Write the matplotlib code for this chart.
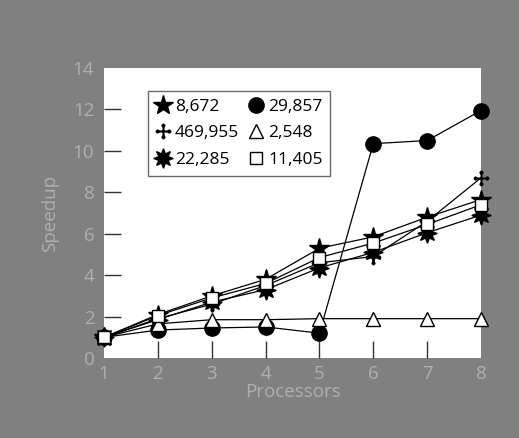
import numpy as np
import matplotlib
matplotlib.use("Agg")
import matplotlib.pyplot as plt
from matplotlib.path import Path

plt.rcParams['font.family'] = ['Open Sans', 'DejaVu Sans']

processors = [1, 2, 3, 4, 5, 6, 7, 8]

# speedup per problem size
s_8672 = [1.0, 2.1, 3.0, 3.8, 5.3, 5.85, 6.8, 7.65]
s_469955 = [1.0, 1.9, 2.6, 3.5, 4.6, 4.9, 6.6, 8.7]
s_22285 = [1.0, 1.85, 2.7, 3.3, 4.35, 5.1, 6.05, 6.9]
s_29857 = [1.0, 1.35, 1.45, 1.5, 1.2, 10.35, 10.5, 11.95]
s_2548 = [1.0, 1.65, 1.85, 1.85, 1.9, 1.9, 1.9, 1.9]
s_11405 = [1.0, 2.05, 2.9, 3.6, 4.85, 5.55, 6.45, 7.4]

labels = ["8,672", "469,955", "22,285", "29,857", "2,548", "11,405"]
yticks = [0, 2, 4, 6, 8, 10, 12, 14]

# plus sign with dots on the ends
w = 0.12
bar_h = Path([(-1, -w), (1, -w), (1, w), (-1, w), (-1, -w)], closed=True)
bar_v = Path([(-w, -1), (w, -1), (w, 1), (-w, 1), (-w, -1)], closed=True)
dots = []
for cx, cy in [(1, 0), (-1, 0), (0, 1), (0, -1)]:
    c = Path.circle((cx, cy), 0.3)
    dots.append(c)
dotcross = Path.make_compound_path(bar_h, bar_v, *dots)

bg = "#808080"
fig = plt.figure(figsize=(5.19, 4.38), dpi=100, facecolor=bg)
ax = fig.add_axes([0.2004, 0.1826, 0.7264, 0.662])
ax.set_facecolor("white")

kw = dict(color="black", lw=0.9, clip_on=False)
ax.plot(processors, s_8672, marker="*", ms=15, mfc="black", mec="black", label=labels[0], **kw)
ax.plot(processors, s_469955, marker=dotcross, ms=11, mfc="black", mec="black", mew=0.3, label=labels[1], **kw)
ax.plot(processors, s_22285, marker=(8, 1, 0), ms=14, mfc="black", mec="black", label=labels[2], **kw)
ax.plot(processors, s_29857, marker="o", ms=11, mfc="black", mec="black", label=labels[3], **kw)
ax.plot(processors, s_2548, marker="^", ms=10, mfc="white", mec="black", mew=1, label=labels[4], **kw)
ax.plot(processors, s_11405, marker="s", ms=8, mfc="white", mec="black", mew=1, label=labels[5], **kw)

ax.set_xlim(1, 8)
ax.set_ylim(0, 14)
ax.set_xticks(processors)
ax.set_yticks(yticks)
ax.tick_params(direction="in", length=12, width=1, color="#333333",
               labelcolor="#b0b0b0", labelsize=13.5)
ax.tick_params(axis="x", pad=5)
ax.tick_params(axis="y", pad=7)
# end ticks sit on the frame edge and do not show in the original
for tl in (ax.xaxis.get_major_ticks()[0], ax.xaxis.get_major_ticks()[-1],
           ax.yaxis.get_major_ticks()[0], ax.yaxis.get_major_ticks()[-1]):
    tl.tick1line.set_visible(False)
for s in ax.spines.values():
    s.set_visible(False)

ax.set_ylabel("Speedup", color="#b0b0b0", fontsize=13.5, labelpad=10)
ax.set_xlabel("Processors", color="#b0b0b0", fontsize=13.5, labelpad=0)

leg = ax.legend(ncol=2, loc="upper left", bbox_to_anchor=(0.117, 0.922),
                fontsize=12.5, frameon=True, fancybox=False, edgecolor="#444444",
                handlelength=0.8, handletextpad=0.3, columnspacing=0.55,
                labelspacing=0.6, borderpad=0.45, borderaxespad=0)
leg.get_frame().set_linewidth(1.0)
for h in leg.legend_handles:
    h.set_linestyle("none")

fig.savefig("out.png", dpi=100, facecolor=bg)
